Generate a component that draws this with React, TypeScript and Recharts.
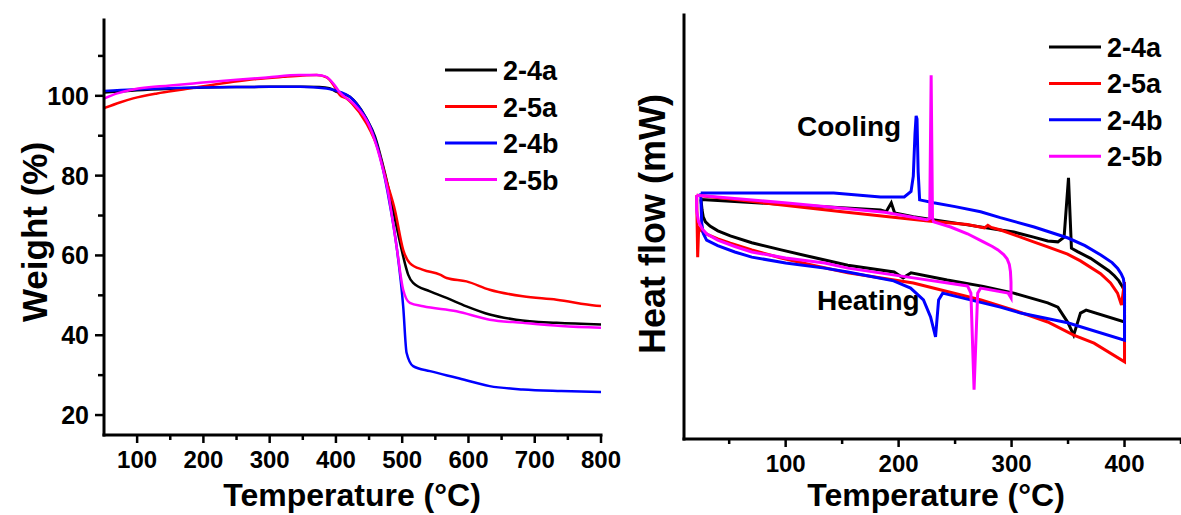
import React from "react"
import { LineChart, Line, XAxis, YAxis } from "recharts"

// TGA curves: [temperature °C, weight %]
const tga24a = [
  [50, 100.8], [100, 101.4], [150, 101.8], [200, 102.1], [250, 102.2], [300, 102.25], [350, 102.3],
  [375, 102.2], [390, 101.9], [401, 101.0], [421, 99.75], [431, 98.1], [446, 94.35], [459, 89.75],
  [469, 83.9], [481, 75.6], [491.5, 67.25], [501.5, 59.75], [509, 55.2], [516.5, 53.1], [542, 51.0],
  [567, 49.35], [597, 47.25], [632, 45.2], [672, 43.9], [733, 43.1], [800, 42.7],
]
const tga25a = [
  [50, 96.9], [75, 98.4], [94, 99.35], [130, 100.6], [169, 101.6], [200, 102.4], [245, 103.5],
  [280, 104.2], [320, 104.75], [350, 105.1], [371, 105.2], [386, 104.6], [396, 102.8], [406, 100.2],
  [416, 99.3], [424, 98.1], [446, 93.1], [464, 86.4], [476, 78.9], [489, 71.4], [501.5, 61.4],
  [511.5, 58.1], [531.6, 56.4], [557, 55.2], [567, 54.35], [597, 53.5], [632, 51.4], [682, 49.75],
  [733, 48.9], [793, 47.4], [800, 47.3],
]
const tga24b = [
  [50, 101.2], [94, 101.6], [150, 101.9], [195, 102.1], [250, 102.2], [300, 102.25], [346, 102.25],
  [386, 101.85], [406, 101.0], [421, 99.75], [441, 95.6], [456, 90.6], [469, 83.1], [481, 73.1],
  [491.5, 62.25], [501.5, 47.25], [506.6, 35.6], [516.5, 32.25], [542, 31.0], [582, 29.35],
  [632, 27.25], [682, 26.4], [740, 26.0], [800, 25.75],
]
const tga25b = [
  [50, 99.3], [70, 100.6], [94, 101.6], [150, 102.6], [195, 103.25], [250, 104.0], [296, 104.6],
  [345, 105.2], [371, 105.2], [381, 105.0], [387, 104.6], [396, 103.1], [406, 100.8], [426, 98.1],
  [451, 92.25], [466, 84.75], [479, 75.6], [491.5, 62.25], [501.5, 51.4], [511.5, 48.1],
  [531.6, 47.25], [582, 46.0], [632, 43.9], [682, 43.1], [740, 42.3], [800, 41.85],
]

// DSC loops (heating then cooling): [temperature °C, heat flow, arbitrary units]
const dsc24a = [
  [25, 56.5], [26, 54], [27, 52.4], [29, 51.2], [33, 50.2], [40, 49.1], [51, 47.9], [70, 46.3],
  [96, 44.6], [125, 42.8], [155, 41.0], [196, 39.4], [204, 38.0], [211, 39.2], [243, 37.5],
  [275, 36.0], [302, 34.4], [332, 32.1], [341, 31.1], [350, 27.4], [355, 24.5], [361, 29.7],
  [366, 30.4], [400, 27.6],
  [400, 34.4], [399.5, 35.2], [398, 36], [395, 37.3], [391, 38.5], [386, 39.7], [379, 41.0],
  [370, 42.6], [358.4, 44.2], [353, 45.0], [350.4, 61.6], [346.5, 47.6], [341, 46.5], [332, 46.7],
  [319.5, 47.6], [302, 48.8], [290, 49.3], [261, 50.5], [213, 52.4], [196.5, 53.3], [193.5, 55.7],
  [189, 53.6], [184, 54.0], [100, 55.3], [25, 56.5],
]
const dsc25a = [
  [21.2, 57.5], [22.1, 42.9], [23, 49.8], [26, 49.0], [31, 48.2], [40, 47.2], [51, 46.2], [70, 44.6],
  [96, 42.7], [125, 40.9], [155, 39.2], [213, 36.8], [273, 32.8], [302, 30.4], [332, 27.6],
  [355, 24.5], [373, 22.6], [400, 18.2],
  [400, 37.0], [397.3, 31.6], [393.8, 34.4], [387.6, 36.8], [378.8, 39.0], [361, 42.0], [349.6, 43.6],
  [332, 45.3], [319.5, 46.5], [290.3, 49.3], [282, 49.9], [279, 50.4], [276, 49.8], [261, 50.6],
  [226, 51.4], [150, 53.6], [21.2, 57.5],
]
const dsc24b = [
  [24.8, 58.0], [25.7, 50.9], [27, 48.5], [30, 46.9], [39.8, 45.6], [55, 44.1], [70, 42.9],
  [100, 41.5], [134.5, 40.3], [155, 39.4], [195.6, 37.3], [210.6, 35.6], [222, 32.8], [228.3, 28.8],
  [232.7, 24.1], [235.4, 32.8], [239, 34.4], [290, 31.1], [308, 29.7], [349.6, 27.4], [400, 23.3],
  [400, 35.8], [399, 37.8], [397, 39], [394, 40.2], [389, 41.6], [379, 43.4], [365, 45.6],
  [350, 47.4], [320, 50.0], [290, 52.2], [272.6, 53.6], [250, 54.8], [231, 55.7], [218.6, 56.4],
  [217.3, 63], [216.3, 75.5], [215.5, 76.2], [214.5, 72], [213, 62], [211, 58.4], [205, 57.1],
  [184, 57.1], [142.5, 58.0], [95.6, 58.0], [24.8, 58.0],
]
const dsc25b = [
  [21.2, 57.5], [21.2, 53.8], [23, 51.2], [26, 49.6], [30, 48.4], [39.8, 46.9], [55, 45.4], [70, 44.1],
  [100, 42.7], [134.5, 41.5], [155, 40.3], [213, 38.0], [261, 36.1], [264, 34.4], [266.8, 11.6],
  [270, 34.4], [272.6, 35.6], [297, 34.4], [299.5, 33.3],
  [299.5, 37], [299, 39.5], [298, 41.2], [296, 42.5], [293, 43.5], [288, 44.6], [283, 45.4],
  [275, 46.5], [261, 48.4], [246, 50.0], [231, 51.2], [230, 52.1], [228.8, 85.8], [227.5, 52.0],
  [225, 51.7], [187.6, 53.5], [99, 55.7], [21.2, 57.5],
]

const seriesNames = ["2-4a", "2-5a", "2-4b", "2-5b"]
const seriesColors = ["#000000", "#ff0000", "#0000ff", "#ff00ff"]
const tgaSeries = [tga24a, tga25a, tga24b, tga25b]
const dscSeries = [dsc24a, dsc25a, dsc24b, dsc25b]

const tgaXTicks = [100, 150, 200, 250, 300, 350, 400, 450, 500, 550, 600, 650, 700, 750, 800]
const tgaXMajor = [100, 200, 300, 400, 500, 600, 700, 800]
const tgaYTicks = [20, 30, 40, 50, 60, 70, 80, 90, 100, 110]
const tgaYMajor = [20, 40, 60, 80, 100]
const dscXTicks = [50, 100, 150, 200, 250, 300, 350, 400, 450]
const dscXMajor = [100, 200, 300, 400]

const FONT = "'Liberation Sans', Arial, sans-serif"
const frame = { stroke: "#000", strokeWidth: 3, strokeLinecap: "square" as const }

const toRows = (pts: number[][], key: string) => pts.map(([t, v]) => ({ t, [key]: v }))

const XTick = (props: any) => {
  const { x, y, payload, majors } = props
  const major = majors.includes(payload.value)
  return (
    <g>
      <line x1={x} x2={x} y1={y} y2={y + (major ? 8 : 5)} stroke="#000" strokeWidth={2.5} />
      {major && (
        <text x={x} y={y + 33} textAnchor="middle" fontFamily={FONT} fontWeight="bold" fontSize={24} fill="#000">
          {payload.value}
        </text>
      )}
    </g>
  )
}

const YTick = (props: any) => {
  const { x, y, payload, majors } = props
  const major = majors.includes(payload.value)
  return (
    <g>
      <line x1={x - (major ? 9 : 6)} x2={x} y1={y} y2={y} stroke="#000" strokeWidth={2.5} />
      {major && (
        <text x={x - 15} y={y + 9} textAnchor="end" fontFamily={FONT} fontWeight="bold" fontSize={25} fill="#000">
          {payload.value}
        </text>
      )}
    </g>
  )
}

const LegendBox = ({ x, y, gap }: { x: number; y: number; gap: number }) => (
  <g>
    {seriesNames.map((name, i) => (
      <g key={name}>
        <line x1={x} x2={x + 52} y1={y + i * gap} y2={y + i * gap} stroke={seriesColors[i]} strokeWidth={3} />
        <text x={x + 58} y={y + i * gap + 10} fontFamily={FONT} fontWeight="bold" fontSize={27} fill="#000">
          {name}
        </text>
      </g>
    ))}
  </g>
)

const TgaChart = () => (
  <LineChart width={640} height={515} margin={{ top: 20, right: 39, left: 0, bottom: 0 }}>
    <XAxis
      dataKey="t" type="number" domain={[50, 800]} ticks={tgaXTicks} interval={0} allowDataOverflow
      height={80} tickSize={0} tickMargin={0} tickLine={false} axisLine={frame}
      tick={(p: any) => <XTick {...p} majors={tgaXMajor} />}
    />
    <XAxis xAxisId="top" orientation="top" type="number" domain={[50, 800]} height={0} tick={false} tickLine={false} axisLine={frame} />
    <YAxis
      type="number" domain={[15, 119]} ticks={tgaYTicks} interval={0} allowDataOverflow
      width={104} tickSize={0} tickMargin={0} tickLine={false} axisLine={frame}
      tick={(p: any) => <YTick {...p} majors={tgaYMajor} />}
    />
    <YAxis yAxisId="right" orientation="right" type="number" domain={[15, 119]} width={0} tick={false} tickLine={false} axisLine={frame} />
    {tgaSeries.map((pts, i) => (
      <Line
        key={seriesNames[i]} data={toRows(pts, "w")} dataKey="w" name={seriesNames[i]} type="monotone"
        stroke={seriesColors[i]} strokeWidth={2.5} dot={false} activeDot={false} isAnimationActive={false}
      />
    ))}
    <LegendBox x={445} y={70} gap={36.5} />
    <text transform="translate(47,232) rotate(-90)" textAnchor="middle" fontFamily={FONT} fontWeight="bold" fontSize={35} fill="#000">
      Weight (%)
    </text>
    <text x={352} y={506} textAnchor="middle" fontFamily={FONT} fontWeight="bold" fontSize={32} fill="#000">
      Temperature (°C)
    </text>
  </LineChart>
)

const DscChart = () => (
  <LineChart width={561} height={515} margin={{ top: 15, right: 0, left: 0, bottom: 0 }}>
    <XAxis
      dataKey="t" type="number" domain={[10, 450]} ticks={dscXTicks} interval={0} allowDataOverflow
      height={76} tickSize={0} tickMargin={0} tickLine={false} axisLine={frame}
      tick={(p: any) => <XTick {...p} majors={dscXMajor} />}
    />
    <XAxis xAxisId="top" orientation="top" type="number" domain={[10, 450]} height={0} tick={false} tickLine={false} axisLine={frame} />
    <YAxis type="number" domain={[0, 100]} width={64} tick={false} tickLine={false} axisLine={frame} allowDataOverflow />
    {dscSeries.map((pts, i) => (
      <Line
        key={seriesNames[i]} data={toRows(pts, "h")} dataKey="h" name={seriesNames[i]} type="linear"
        stroke={seriesColors[i]} strokeWidth={3} dot={false} activeDot={false} isAnimationActive={false}
      />
    ))}
    <LegendBox x={429} y={47} gap={36.4} />
    <text x={177} y={136} fontFamily={FONT} fontWeight="bold" fontSize={28} fill="#000">Cooling</text>
    <text x={197} y={310} fontFamily={FONT} fontWeight="bold" fontSize={28} fill="#000">Heating</text>
    <text transform="translate(45,224) rotate(-90)" textAnchor="middle" fontFamily={FONT} fontWeight="bold" fontSize={36} fill="#000">
      Heat flow (mW)
    </text>
    <text x={316} y={506} textAnchor="middle" fontFamily={FONT} fontWeight="bold" fontSize={32} fill="#000">
      Temperature (°C)
    </text>
  </LineChart>
)

export default function App() {
  return (
    <div style={{ position: "relative", width: 1181, height: 515, background: "#fff", overflow: "hidden" }}>
      <style>{"body{margin:0}"}</style>
      <div style={{ position: "absolute", left: 0, top: 0 }}>
        <TgaChart />
      </div>
      <div style={{ position: "absolute", left: 620, top: 0 }}>
        <DscChart />
      </div>
    </div>
  )
}
